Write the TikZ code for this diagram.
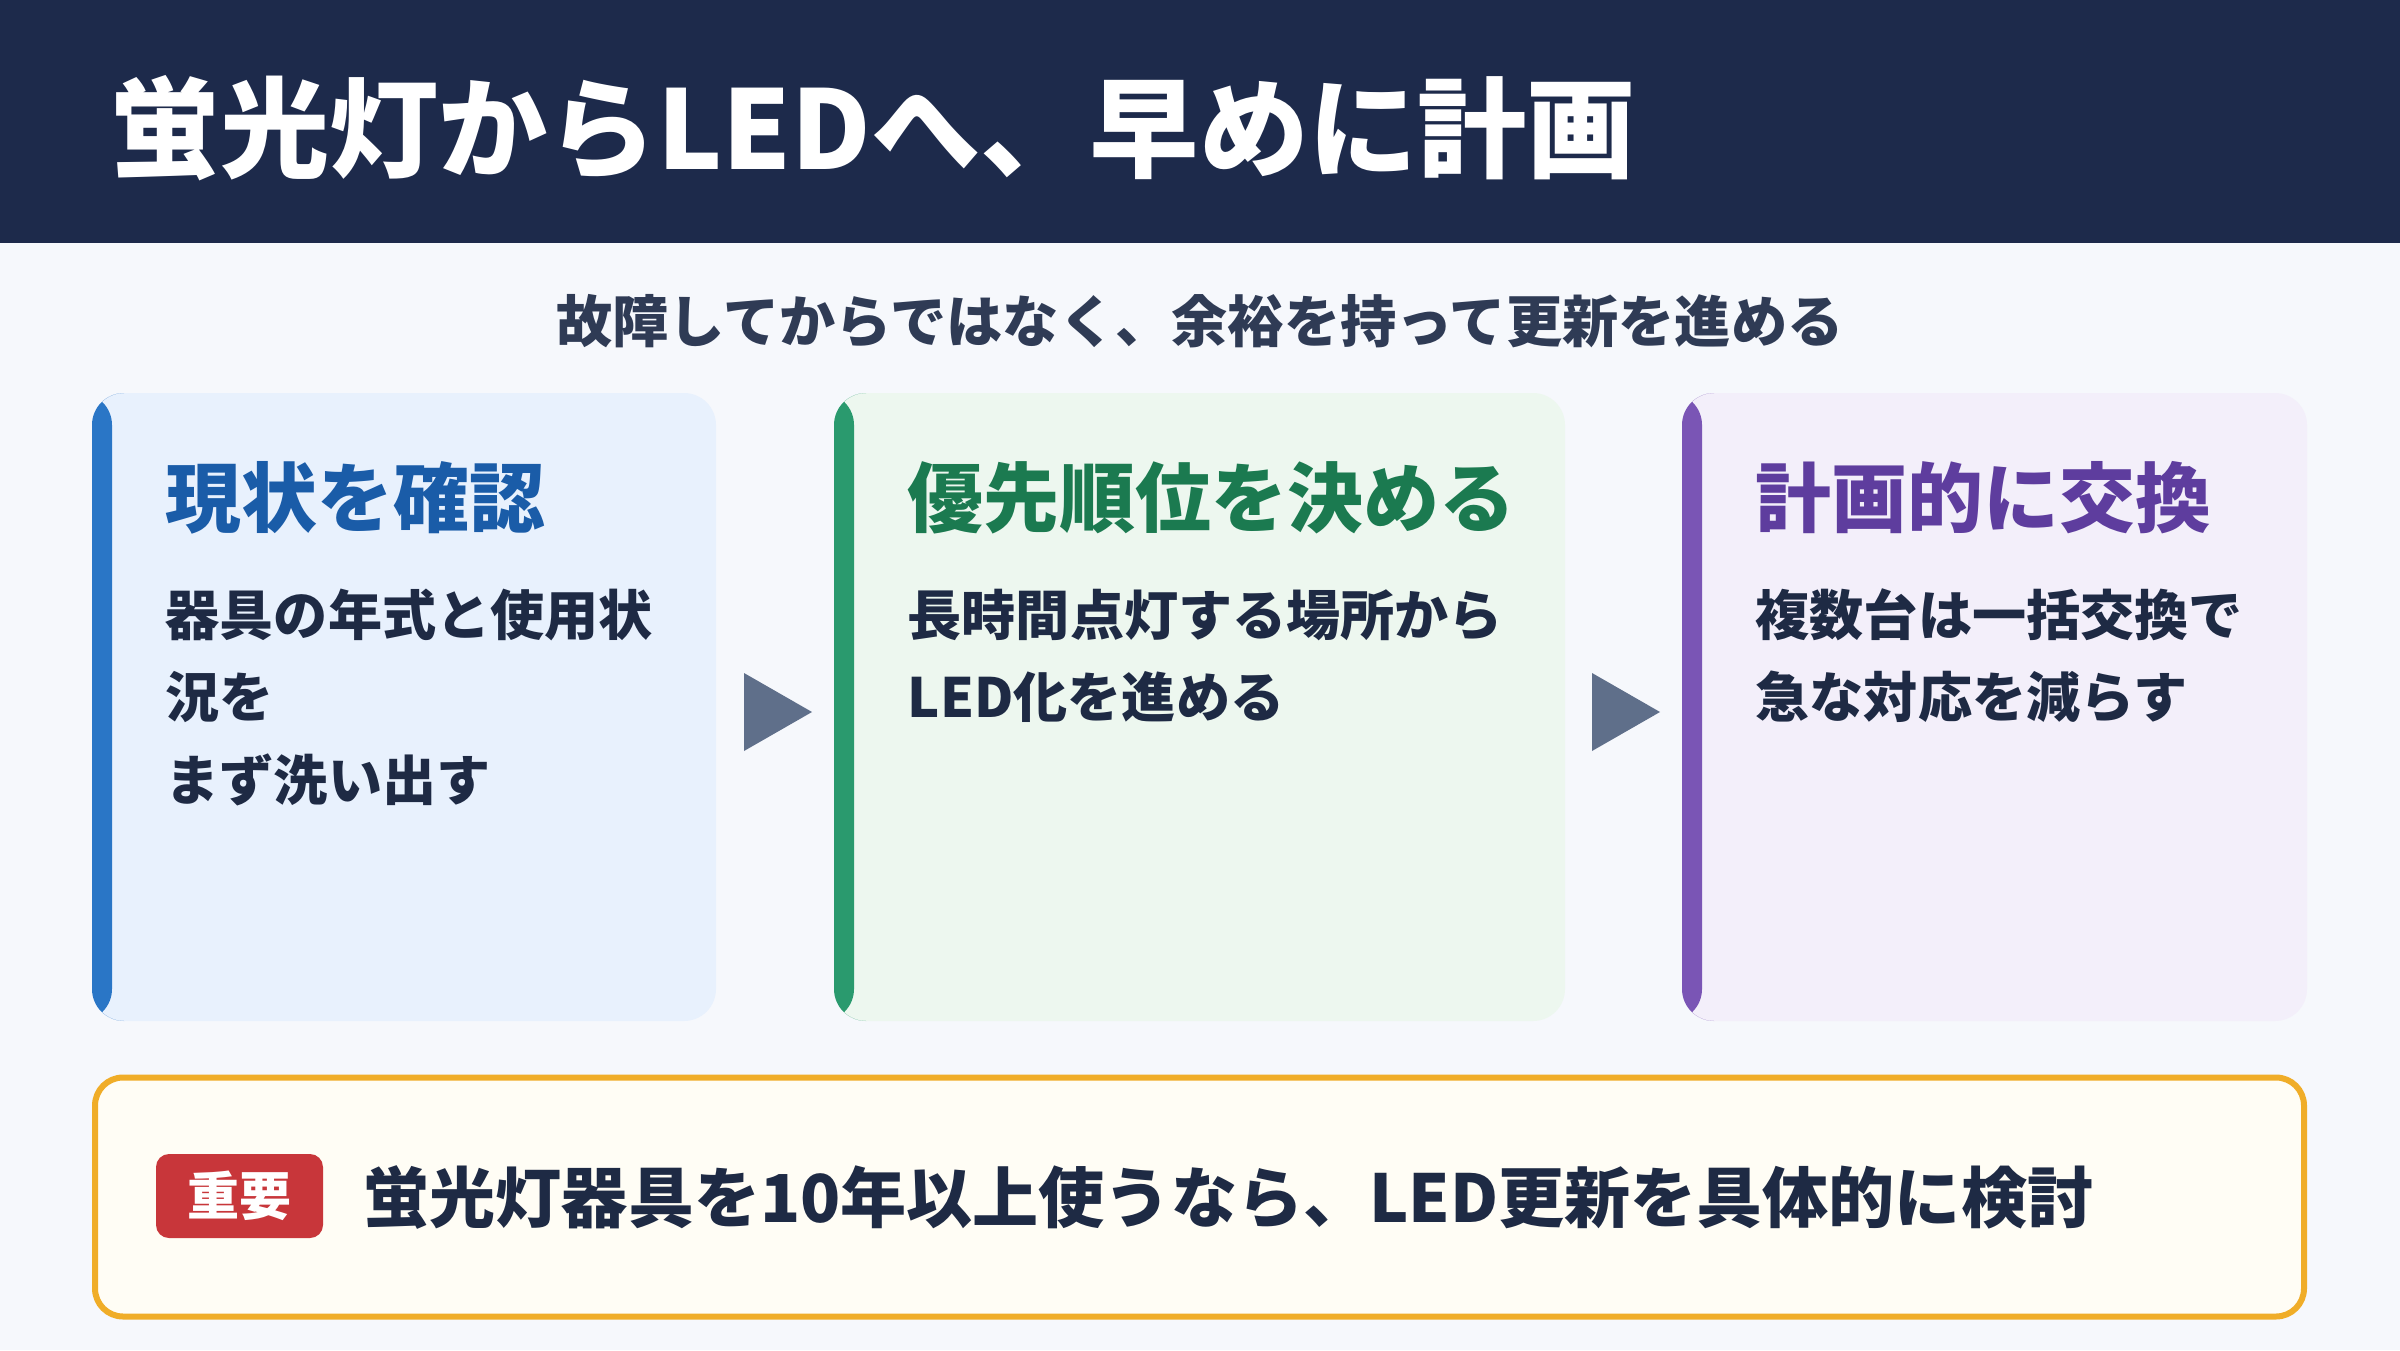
\documentclass[tikz,border=0pt]{standalone}
\usepackage{fontspec}
\setmainfont{Noto Sans CJK JP}
\definecolor{bgc}{HTML}{F6F8FC}
\definecolor{hdr}{HTML}{1D2A4B}
\definecolor{subc}{HTML}{2F3B55}
\definecolor{bodyc}{HTML}{1E2A44}
\definecolor{bluebar}{HTML}{2A76C6}
\definecolor{bluebg}{HTML}{E8F1FD}
\definecolor{bluetx}{HTML}{1A5CA8}
\definecolor{greenbar}{HTML}{2A9A6E}
\definecolor{greenbg}{HTML}{EDF7EF}
\definecolor{greentx}{HTML}{1B7A50}
\definecolor{purpbar}{HTML}{7A55B5}
\definecolor{purpbg}{HTML}{F3EFFA}
\definecolor{purptx}{HTML}{5E3D9E}
\definecolor{arrowc}{HTML}{5F6F8A}
\definecolor{orangec}{HTML}{F0AD28}
\definecolor{notebg}{HTML}{FFFDF5}
\definecolor{badgec}{HTML}{C8363A}
\begin{document}
\begin{tikzpicture}[x=0.1mm,y=-0.1mm,
  titletx/.style={anchor=base west,inner sep=0,text=white,font=\bfseries\fontsize{31.1}{36}\selectfont},
  subtx/.style={anchor=base,inner sep=0,text=subc,font=\bfseries\fontsize{16}{19}\selectfont},
  headtx/.style={anchor=base west,inner sep=0,font=\bfseries\fontsize{21.6}{26}\selectfont},
  bodytx/.style={anchor=base west,inner sep=0,text=bodyc,font=\bfseries\fontsize{15.4}{19}\selectfont},
  card/.style n args={2}{draw=none,fill=#1,rounded corners=3.2mm,minimum height=62.8mm,inner sep=0,
    path picture={\fill[#2] (path picture bounding box.north west) rectangle ([xshift=2mm]path picture bounding box.south west);}},
  tri/.style={fill=arrowc},
  notebox/.style={draw=orangec,line width=0.6mm,fill=notebg,rounded corners=2.8mm,minimum width=220.9mm,minimum height=23.9mm,inner sep=0},
  badge/.style={fill=badgec,rounded corners=1.3mm,minimum width=16.7mm,minimum height=8.4mm,inner sep=0,text=white,font=\bfseries\fontsize{14.8}{18}\selectfont},
  notetx/.style={anchor=base west,inner sep=0,text=bodyc,font=\bfseries\fontsize{18.8}{23}\selectfont}
]
\useasboundingbox (0,0) rectangle (2400,1350);
\fill[bgc] (0,0) rectangle (2400,1350);
\fill[hdr] (0,0) rectangle (2400,243);
\node[titletx] (title) at (110,169) {蛍光灯からLEDへ、早めに計画};
\node[subtx] (sub) at (1200,342) {故障してからではなく、余裕を持って更新を進める};

\node[card={bluebg}{bluebar},minimum width=62.4mm] (c1) at (404,707) {};
\node[card={greenbg}{greenbar},minimum width=73.1mm] (c2) at (1199.5,707) {};
\node[card={purpbg}{purpbar},minimum width=62.5mm] (c3) at (1994.5,707) {};

\node[headtx,text=bluetx] (h1) at (165,526) {現状を確認};
\node[bodytx] (b1a) at (165,635) {器具の年式と使用状};
\node[bodytx] (b1b) at (165,717) {況を};
\node[bodytx] (b1c) at (165,800) {まず洗い出す};

\node[headtx,text=greentx] (h2) at (907,526) {優先順位を決める};
\node[bodytx] (b2a) at (907,635) {長時間点灯する場所から};
\node[bodytx] (b2b) at (907,717) {LED化を進める};

\node[headtx,text=purptx] (h3) at (1755,526) {計画的に交換};
\node[bodytx] (b3a) at (1755,635) {複数台は一括交換で};
\node[bodytx] (b3b) at (1755,717) {急な対応を減らす};

\fill[tri] (744,673) -- (812,712) -- (744,751) -- cycle;
\fill[tri] (1592,673) -- (1660,712) -- (1592,751) -- cycle;

\node[notebox] (note) at (1199.5,1197) {};
\node[badge] (bd) at (239.5,1196) {重要};
\node[notetx] (nt) at (363,1222) {蛍光灯器具を10年以上使うなら、LED更新を具体的に検討};
\end{tikzpicture}
\end{document}
